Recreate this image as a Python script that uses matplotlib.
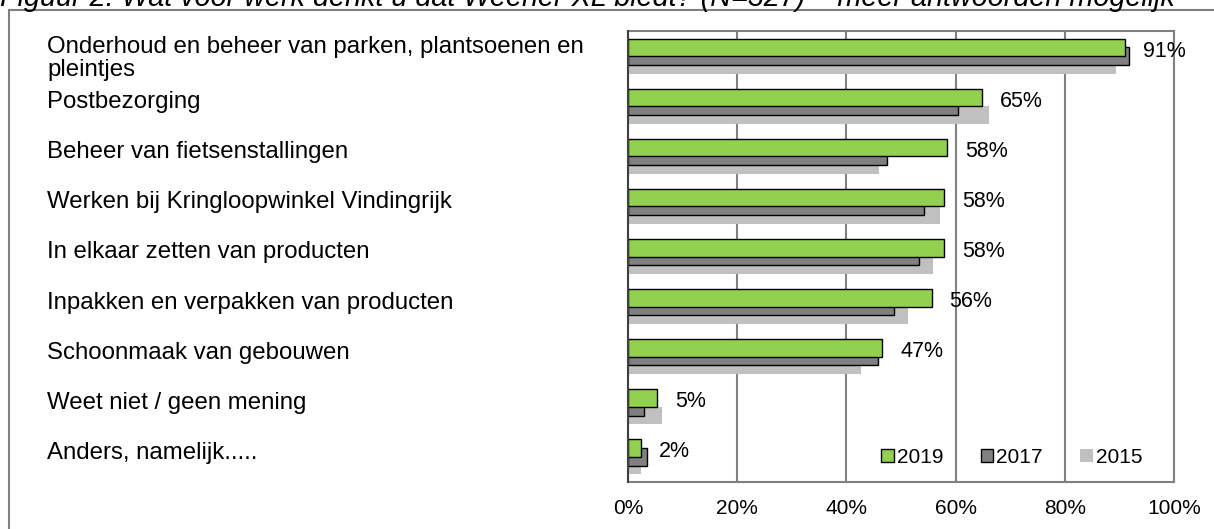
import matplotlib
matplotlib.use("Agg")
import matplotlib.pyplot as plt
import matplotlib.transforms as mtransforms
import numpy as np
from matplotlib.lines import Line2D

plt.rcParams['font.family'] = ['Liberation Sans', 'DejaVu Sans']

categories = [
    "Onderhoud en beheer van parken, plantsoenen en\npleintjes",
    "Postbezorging",
    "Beheer van fietsenstallingen",
    "Werken bij Kringloopwinkel Vindingrijk",
    "In elkaar zetten van producten",
    "Inpakken en verpakken van producten",
    "Schoonmaak van gebouwen",
    "Weet niet / geen mening",
    "Anders, namelijk.....",
]
vals_2019 = [91.0, 64.8, 58.4, 57.9, 57.9, 55.6, 46.6, 5.4, 2.3]
vals_2017 = [91.8, 60.5, 47.4, 54.2, 53.3, 48.7, 45.7, 3.0, 3.4]
vals_2015 = [89.4, 66.2, 45.9, 57.1, 55.8, 51.3, 42.7, 6.2, 2.3]
xticks = [0, 20, 40, 60, 80, 100]

W, H = 1214, 529
fig = plt.figure(figsize=(W / 100, H / 100), dpi=100)
ax = fig.add_axes([628 / W, (H - 482) / H, 546 / W, 451 / H])

y = np.arange(len(categories))
h = 0.35
off = 0.175
ax.barh(y + off, vals_2015, height=h, color="#C0C0C0", zorder=2, label="2015")
ax.barh(y, vals_2017, height=h, color="#808080", edgecolor="black", linewidth=1, zorder=3, label="2017")
ax.barh(y - off, vals_2019, height=h, color="#92D050", edgecolor="black", linewidth=1, zorder=4, label="2019")

for yi, v in zip(y, vals_2019):
    ax.annotate(f"{v:.0f}%", xy=(v, yi - 0.1), xytext=(13, 0), textcoords="offset points",
                va="center", ha="left", fontsize=15.5, zorder=5)

ax.set_xlim(0, 100)
ax.set_ylim(len(categories) - 0.5, -0.5)
ax.set_xticks(xticks)
ax.set_xticklabels([f"{t}%" for t in xticks], fontsize=15)
ax.set_yticks(y)
ax.set_yticklabels([])
ax.tick_params(axis="both", length=0)
ax.tick_params(axis="x", pad=12)
ax.xaxis.grid(True, color="#808080", linewidth=1.5, zorder=1)
ax.set_axisbelow(True)
for side in ["top", "right", "bottom"]:
    ax.spines[side].set_color("#808080")
    ax.spines[side].set_linewidth(1.5)
ax.spines["left"].set_color("#404040")
ax.spines["left"].set_linewidth(1.5)
ax.spines["left"].set_zorder(6)

# category labels sit in the left part of the frame, not as tick labels
label_tr = mtransforms.blended_transform_factory(fig.transFigure, ax.transData)
for yi, lab in zip(y, categories):
    dy = 0.05 if "\n" in lab else -0.08
    ax.text(47 / W, yi + dy, lab, transform=label_tr,
            ha="left", va="center", fontsize=17.3, linespacing=1.1)

handles, labels = ax.get_legend_handles_labels()
order = [2, 1, 0]
ax.legend([handles[i] for i in order], [labels[i] for i in order], ncol=3, frameon=False,
          loc="center", bbox_to_anchor=(0.703, 0.055), fontsize=15, handlelength=0.6,
          handleheight=0.6, handletextpad=0.15, columnspacing=1.8, borderpad=0)

fig.text(0.0, 1 - 6 / H, "Figuur 2: Wat voor werk denkt u dat Weener XL biedt? (N=327) \u2013 meer antwoorden mogelijk",
         ha="left", va="baseline", fontsize=20.7, style="italic")

# outer frame (only left and top edges visible)
fig.add_artist(Line2D([9 / W, 9 / W], [-0.1, 1 - 10 / H], transform=fig.transFigure, color="#808080", linewidth=1.5))
fig.add_artist(Line2D([9 / W, 1.1], [1 - 10 / H, 1 - 10 / H], transform=fig.transFigure, color="#808080", linewidth=1.5))

fig.savefig("out.png", dpi=100)
